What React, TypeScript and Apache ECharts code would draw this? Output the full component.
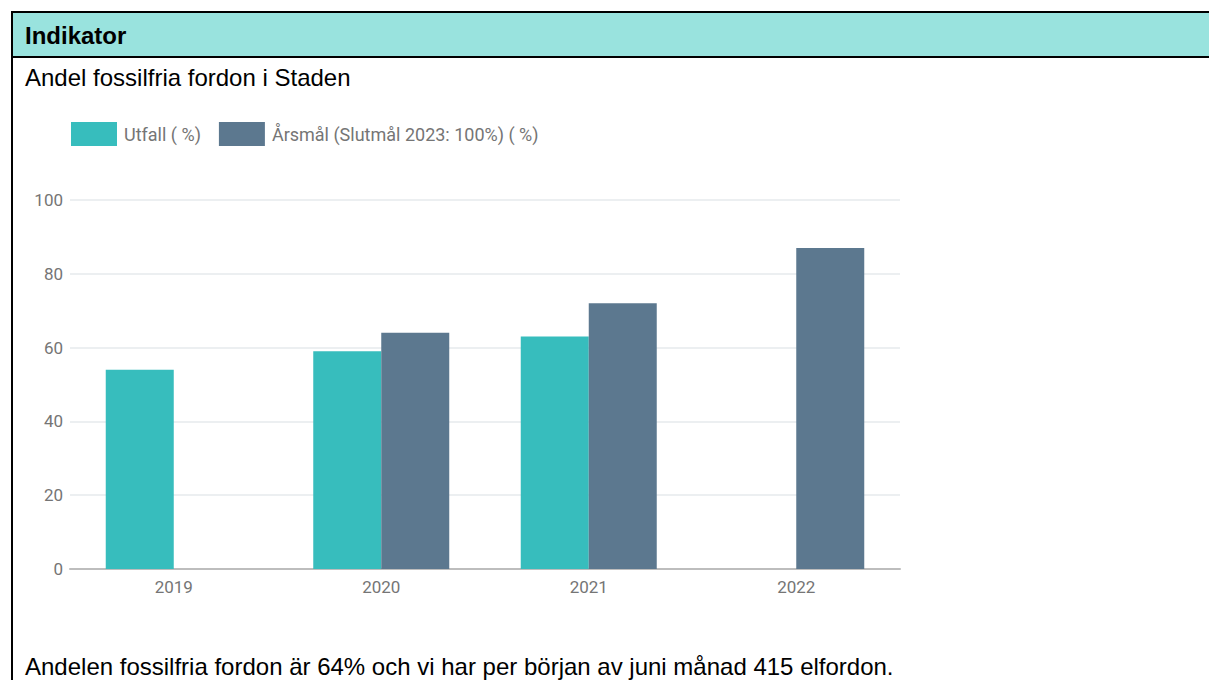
import React, { useEffect, useRef } from "react";
import * as echarts from "echarts";

const categories = ["2019", "2020", "2021", "2022"];
const utfall: (number | null)[] = [54, 59, 63, null];
const arsmal: (number | null)[] = [null, 64, 72, 87];
const seriesNames = ["Utfall ( %)", "Årsmål (Slutmål 2023: 100%) ( %)"];
const yTicks = { min: 0, max: 100, interval: 20 };

const headerText = "Indikator";
const titleText = "Andel fossilfria fordon i Staden";
const footerText = "Andelen fossilfria fordon är 64% och vi har per början av juni månad 415 elfordon.";

function Chart() {
  const ref = useRef<HTMLDivElement>(null);
  useEffect(() => {
    if (!ref.current) return;
    const chart = echarts.init(ref.current, undefined, { renderer: "svg" });
    chart.setOption({
      animation: false,
      color: ["#37bdbd", "#5c788f"],
      legend: {
        left: 71,
        top: 22,
        padding: 0,
        itemWidth: 46,
        itemHeight: 24,
        itemGap: 18,
        icon: "rect",
        textStyle: { fontFamily: "Roboto", fontSize: 18, color: "#757575", padding: [0, 0, 0, 2] },
        data: seriesNames,
      },
      grid: { left: 70, right: 100, top: 100, bottom: 51, containLabel: false },
      xAxis: {
        type: "category",
        data: categories,
        axisTick: { show: false },
        axisLine: { lineStyle: { color: "#bdbdbd", width: 2 } },
        axisLabel: { fontFamily: "Roboto", fontSize: 17, color: "#757575", margin: 9 },
      },
      yAxis: {
        type: "value",
        min: yTicks.min,
        max: yTicks.max,
        interval: yTicks.interval,
        axisLine: { show: false },
        axisTick: { show: false },
        splitLine: { lineStyle: { color: "#eceff1", width: 2 } },
        axisLabel: { fontFamily: "Roboto", fontSize: 17, color: "#757575", margin: 7 },
      },
      series: [
        {
          name: seriesNames[0],
          type: "bar",
          data: utfall,
          barWidth: 68,
          barGap: 0,
          itemStyle: { borderWidth: 0 },
        },
        {
          name: seriesNames[1],
          type: "bar",
          data: arsmal,
          barWidth: 68,
          barGap: 0,
          itemStyle: { borderWidth: 0 },
        },
      ],
    });
    return () => chart.dispose();
  }, []);
  return <div ref={ref} style={{ position: "absolute", left: 0, top: 100, width: 1000, height: 520 }} />;
}

export default function App() {
  const font = '"Liberation Sans", Arial, sans-serif';
  return (
    <div
      style={{
        position: "absolute",
        left: 0,
        top: 0,
        width: 1209,
        height: 680,
        overflow: "hidden",
        background: "#ffffff",
        fontFamily: font,
      }}
    >
      <div
        style={{
          position: "absolute",
          left: 11,
          top: 11,
          width: 1300,
          height: 800,
          borderLeft: "2px solid #000",
          borderTop: "2px solid #000",
        }}
      />
      <div
        style={{
          position: "absolute",
          left: 13,
          top: 13,
          width: 1300,
          height: 43,
          background: "#99e3de",
          borderBottom: "2px solid #000",
        }}
      />
      <div
        style={{
          position: "absolute",
          left: 25,
          top: 14,
          height: 43,
          lineHeight: "43px",
          fontSize: 24,
          fontWeight: "bold",
          color: "#000",
        }}
      >
        {headerText}
      </div>
      <div style={{ position: "absolute", left: 25, top: 63, lineHeight: "30px", fontSize: 24, color: "#000" }}>
        {titleText}
      </div>
      <Chart />
      <div style={{ position: "absolute", left: 25, top: 652, lineHeight: "30px", fontSize: 24, color: "#000" }}>
        {footerText}
      </div>
    </div>
  );
}
